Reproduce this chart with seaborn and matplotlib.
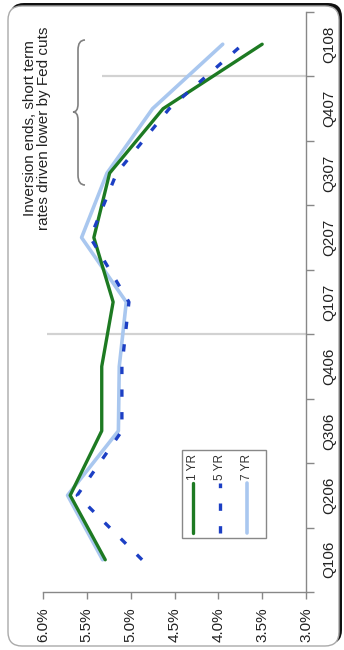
import matplotlib
matplotlib.use('Agg')
import numpy as np
import pandas as pd
import matplotlib.pyplot as plt
import seaborn as sns
from matplotlib.patches import FancyBboxPatch, Rectangle, PathPatch
from matplotlib.path import Path
from matplotlib.lines import Line2D
from matplotlib.transforms import Affine2D

# chart is drawn turned on its side: quarters run bottom -> top on the right,
# rates run 6.0% (left) -> 3.0% (right) along the bottom

quarters = ['Q106', 'Q206', 'Q306', 'Q406', 'Q107', 'Q207', 'Q307', 'Q407', 'Q108']
yr1 = [5.29, 5.69, 5.33, 5.33, 5.20, 5.42, 5.24, 4.63, 3.50]
yr5 = [4.87, 5.61, 5.10, 5.10, 5.02, 5.46, 5.16, 4.56, 3.72]
yr7 = [5.32, 5.72, 5.14, 5.13, 5.05, 5.56, 5.27, 4.75, 3.95]
series_names = ['1 YR', '5 YR', '7 YR']

rate_ticks = [6.0, 5.5, 5.0, 4.5, 4.0, 3.5, 3.0]
marker_pos = [3.5, 7.5]        # reference lines between quarters
marker_top = [5.95, 5.33]      # how far they reach up the rate scale

note = 'Inversion ends, short term\nrates driven lower by Fed cuts'

df = pd.DataFrame({
	'pos': list(range(len(quarters))) * 3,
	'rate': yr1 + yr5 + yr7,
	'series': [s for s in series_names for _ in quarters],
})

sns.set_style('white')
plt.rcParams['font.family'] = ['Liberation Sans', 'DejaVu Sans']

W, H = 344, 650
fig = plt.figure(figsize=(W / 100, H / 100), dpi=100)
# pixel coords, y pointing down like the picture
px = Affine2D().scale(1, -1).translate(0, H).scale(1 / 100.) + fig.dpi_scale_trans

# rounded frame with dark edge on top/right
fig.add_artist(FancyBboxPatch((10, 3), 332, 641, boxstyle='round,pad=0,rounding_size=14',
	transform=px, fc='#111111', ec='none', zorder=0))
fig.add_artist(FancyBboxPatch((8, 6), 331, 640, boxstyle='round,pad=0,rounding_size=14',
	transform=px, fc='white', ec='#aaaaaa', lw=1, zorder=0.5))

ax = fig.add_axes([43 / W, 58 / H, 263 / W, 580 / H])
ax.set_facecolor('none')
ax.set_zorder(2)

ax.hlines(marker_pos, xmin=3.0, xmax=marker_top, color='#d2d2d2', lw=1.6, zorder=1)

styles = {
	'7 YR': dict(color='#a9c7ef', lw=2.6, linestyle='-', zorder=2),
	'1 YR': dict(color='#1d7a22', lw=2.4, linestyle='-', zorder=3),
	'5 YR': dict(color='#1c3fc4', lw=2.4, linestyle=(0, (2.2, 4.6)), zorder=4),
}
for name in ['7 YR', '1 YR', '5 YR']:
	sns.lineplot(data=df[df['series'] == name], x='rate', y='pos', orient='y',
		legend=False, ax=ax, **styles[name])

ax.set_xlim(6.0, 3.0)
ax.set_ylim(-0.5, len(quarters) - 0.5)
ax.set_xticks(rate_ticks)
ax.set_xticklabels(['{:.1f}%'.format(v) for v in rate_ticks])
ax.set_yticks(range(len(quarters)))
ax.set_yticklabels(quarters)
ax.set_yticks(np.arange(-0.5, len(quarters), 1), minor=True)
ax.yaxis.tick_right()
ax.set_xlabel('')
ax.set_ylabel('')

ax.tick_params(axis='x', which='major', bottom=True, length=5, width=1, color='#888888',
	pad=6, labelrotation=90, labelsize=11, labelcolor='#222222')
ax.tick_params(axis='y', which='major', right=True, left=False, length=0, pad=12,
	labelrotation=90, labelsize=11, labelcolor='#222222')
ax.tick_params(axis='y', which='minor', right=True, left=False, length=6, width=1, color='#888888')
for lbl in ax.get_yticklabels():
	lbl.set_va('center')

for side in ['left', 'top']:
	ax.spines[side].set_visible(False)
for side in ['bottom', 'right']:
	ax.spines[side].set_color('#888888')
	ax.spines[side].set_linewidth(1)

# note and brace
fig.text(37, 128, note, transform=px, rotation=90, ha='center', va='center',
	multialignment='center', fontsize=11, linespacing=0.95, color='#222222', zorder=3)
brace = Path(
	[(85, 40), (78, 40), (78, 50), (78, 104), (78, 112), (73, 112),
	 (78, 112), (78, 120), (78, 175), (78, 185), (85, 185)],
	[Path.MOVETO, Path.CURVE3, Path.CURVE3, Path.LINETO, Path.CURVE3, Path.CURVE3,
	 Path.CURVE3, Path.CURVE3, Path.LINETO, Path.CURVE3, Path.CURVE3])
fig.add_artist(PathPatch(brace, transform=px, fc='none', ec='#808080', lw=1.2, zorder=3))

# legend, turned like the chart
fig.add_artist(Rectangle((182, 450), 84, 88, transform=px, fc='white', ec='#888888', lw=1, zorder=5))
for i, name in enumerate(series_names):
	st = styles[name]
	xc = 193 + i * 27
	fig.add_artist(Line2D([xc, xc], [533, 483], transform=px, color=st['color'], lw=st['lw'],
		linestyle=st['linestyle'], zorder=6))
	fig.text(xc, 467, name, transform=px, rotation=90, ha='center', va='center',
		fontsize=8.5, color='#333333', zorder=6)

fig.savefig('out.png', dpi=100)
